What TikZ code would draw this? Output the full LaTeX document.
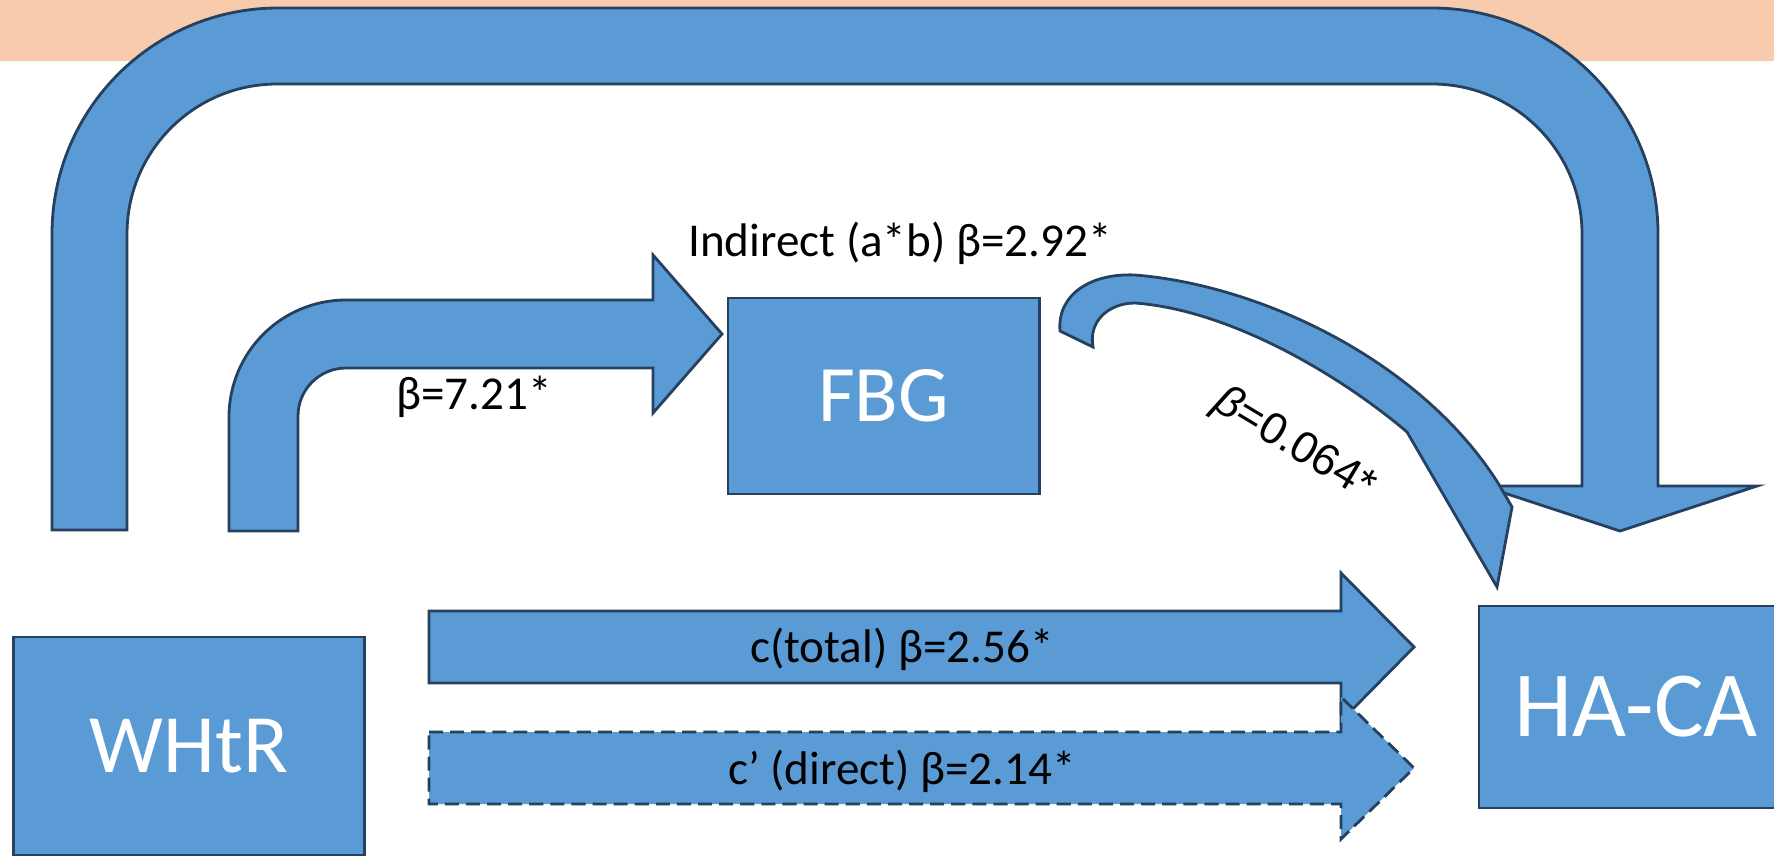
\documentclass[tikz,border=0pt]{standalone}
\usepackage{fontspec}
\setmainfont{Carlito}
\newfontfamily\arialfont{Liberation Sans}
\definecolor{shapefill}{RGB}{91,155,213}
\definecolor{shapeline}{RGB}{38,64,96}
\definecolor{banner}{RGB}{248,203,173}

\begin{document}
\begin{tikzpicture}[
    x=0.01cm, y=0.01cm,
    box/.style={draw=shapeline, fill=shapefill, line width=0.8pt, text=white, inner sep=0pt},
    blockarrow/.style={draw=shapeline, fill=shapefill, line width=0.8pt, line join=miter},
    dashedarrow/.style={blockarrow, dash pattern=on 4pt off 2pt},
    lbl/.style={font=\fontsize{13.4}{16}\selectfont, inner sep=0pt}
]
    \useasboundingbox (0,0) rectangle (1774,-857);
    \clip (0,0) rectangle (1774,-857);

    % Banner
    \fill[banner] (0,0) rectangle (1774,-61);

    % Total path over the top (WHtR -> HA-CA)
    \draw[blockarrow] (52,-530) -- (52,-234) arc[start angle=180, end angle=90, radius=226]
        -- (1432,-8) arc[start angle=90, end angle=0, radius=226]
        -- (1658,-486) -- (1757,-486) -- (1620,-531) -- (1483,-486) -- (1582,-486)
        -- (1582,-234) arc[start angle=0, end angle=90, radius=150]
        -- (277,-84) arc[start angle=90, end angle=180, radius=150] -- (127,-530) -- cycle;

    % Path a (WHtR -> FBG)
    \draw[blockarrow] (229,-531) -- (229,-417) arc[start angle=180, end angle=90, radius=117]
        -- (653,-300) -- (653,-255) -- (722,-334) -- (653,-413) -- (653,-368)
        -- (346,-368) arc[start angle=90, end angle=180, radius=48] -- (298,-531) -- cycle;

    % Variables
    \node[box, minimum width=3.11cm, minimum height=1.96cm, font=\fontsize{22.8}{27}\selectfont] (fbg) at (883.5,-396) {FBG};
    \node[box, minimum width=3.5cm, minimum height=2.18cm, font=\fontsize{23.6}{28}\selectfont] (whtr) at (189,-746) {WHtR};
    \node[box, minimum width=3.14cm, minimum height=2.02cm, font=\fontsize{26.5}{31}\selectfont] (haca) at (1636,-707) {HA-CA};

    % Path b (FBG -> HA-CA)
    \draw[blockarrow] (1060,-331) .. controls (1057,-295) and (1090,-273) .. (1135,-275)
        .. controls (1260,-285) and (1420,-360) .. (1498,-483)
        -- (1512,-507) -- (1497,-587) -- (1407,-432)
        .. controls (1340,-375) and (1230,-310) .. (1135,-303)
        .. controls (1110,-303) and (1088,-320) .. (1093,-347) -- cycle;

    % Paths c and c'
    \draw[blockarrow] (429,-611) -- (1341,-611) -- (1341,-573) -- (1414,-647)
        -- (1341,-721) -- (1341,-683) -- (429,-683) -- cycle;
    \draw[dashedarrow] (429,-732) -- (1341,-732) -- (1341,-697) -- (1414,-768)
        -- (1341,-839) -- (1341,-804) -- (429,-804) -- cycle;

    % Labels
    \node[lbl] (lbl_ind) at (900,-243) {Indirect (a*b) β=2.92*};
    \node[lbl] (lbl_a) at (474,-397) {β=7.21*};
    \node[lbl, rotate=-31, font=\arialfont\fontsize{12.6}{15}\selectfont] (lbl_b) at (1294,-445) {{\itshape β}=0.064*};
    \node[lbl] (lbl_c) at (902,-649) {c(total) β=2.56*};
    \node[lbl] (lbl_cp) at (902,-771) {c’ (direct) β=2.14*};

\end{tikzpicture}
\end{document}
